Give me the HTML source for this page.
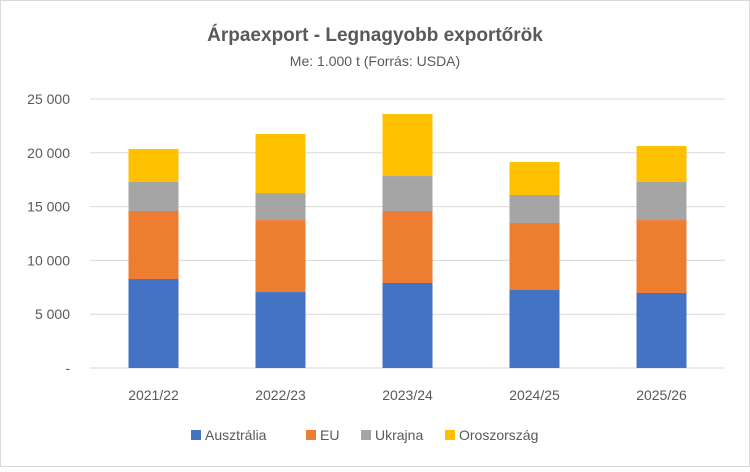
<!DOCTYPE html>
<html><head><meta charset="utf-8"><style>
body{margin:0;background:#fff;font-family:"Liberation Sans",sans-serif;}
svg text{font-family:"Liberation Sans",sans-serif;}
</style></head><body>
<svg width="750" height="467" viewBox="0 0 750 467">
<rect x="0.5" y="0.5" width="749" height="466" fill="#fff" stroke="#d9d9d9"/>
<text x="375" y="41" text-anchor="middle" font-size="19" font-weight="bold" fill="#595959">Árpaexport - Legnagyobb exportőrök</text>
<text x="375" y="66" text-anchor="middle" font-size="14" fill="#595959">Me:  1.000 t (Forrás: USDA)</text>
<g id="grid"></g><g id="bars"></g><g id="xlabels"></g><g id="legend"></g>
</svg>
<script>
const categories=["2021/22","2022/23","2023/24","2024/25","2025/26"];
const seriesNames=["Ausztrália","EU","Ukrajna","Oroszország"];
const ausztralia=[8270,7060,7900,7250,6970];
const eu=[6320,6690,6690,6230,6780];
const ukrajna=[2700,2510,3250,2600,3540];
const oroszorszag=[3060,5490,5760,3060,3340];
const yTicks=[0,5000,10000,15000,20000,25000];
const yTickLabels=["-","5 000","10 000","15 000","20 000","25 000"];
const colors=["#4472c4","#ed7d31","#a5a5a5","#ffc000"];
const ns="http://www.w3.org/2000/svg";
const x0=90,x1=725,y0=368,yTop=99,yMax=25000;
const y=v=>y0-(v/yMax)*(y0-yTop);
const bw=(x1-x0)/categories.length;
const xc=i=>x0+bw*(i+0.5);
function mk(tag,attrs,parent){const e=document.createElementNS(ns,tag);for(const k in attrs)e.setAttribute(k,attrs[k]);document.getElementById(parent).appendChild(e);return e;}
yTicks.forEach((t,i)=>{
 const l=mk("line",{x1:x0,x2:x1,y1:y(t),y2:y(t),stroke:"#d9d9d9"},"grid");
 
 
 const tx=mk("text",{x:70,y:y(t)+5,"text-anchor":"end","font-size":"14",fill:"#595959"},"grid");
 tx.textContent=yTickLabels[i];
 
 
});
const series=[ausztralia,eu,ukrajna,oroszorszag];
categories.forEach((c,i)=>{
 let cum=0;
 series.forEach((s,j)=>{
  const r=mk("rect",{x:xc(i)-25,width:50,y:y(cum+s[i]),height:y(cum)-y(cum+s[i]),fill:colors[j]},"bars");
  
  
  cum+=s[i];
 });
 const t=mk("text",{x:xc(i),y:400,"text-anchor":"middle","font-size":"14",fill:"#595959"},"xlabels");
 t.textContent=c;
 
 
});
const lx=[191,306,361,445];
seriesNames.forEach((n,j)=>{
 const r=mk("rect",{x:lx[j],y:430,width:10,height:10,fill:colors[j]},"legend");
 
 
 const t=mk("text",{x:lx[j]+14,y:440,"font-size":"14",fill:"#595959"},"legend");
 t.textContent=n;
 
 
});
</script>
</body></html>
